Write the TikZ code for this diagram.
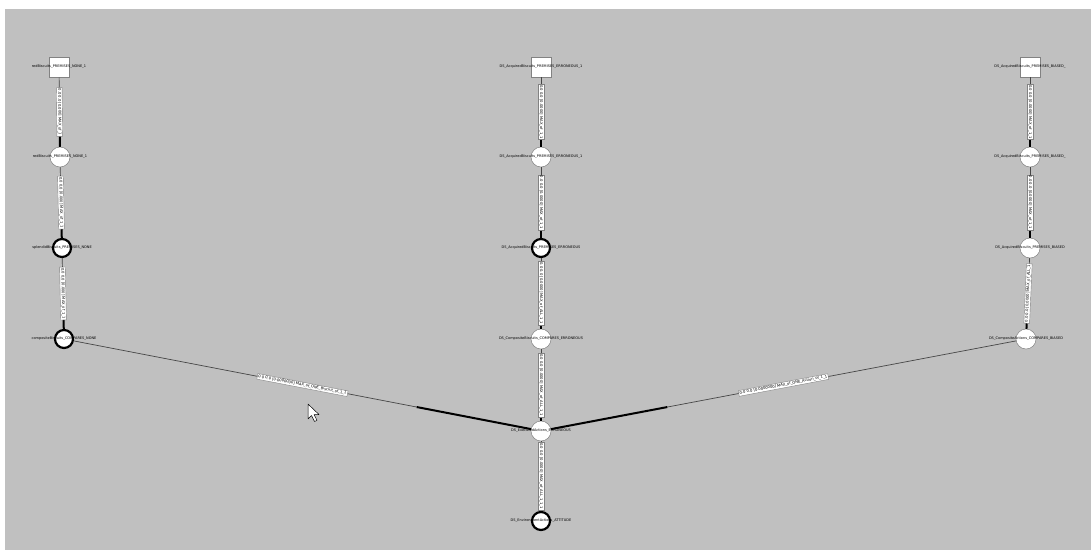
\documentclass[tikz,border=0pt]{standalone}
\usepackage{fontspec}
\setmainfont{DejaVu Sans}
\usepackage{tikz}
\definecolor{canvas}{RGB}{192,192,192}
\definecolor{edgeline}{RGB}{70,70,70}
\definecolor{nodeline}{RGB}{130,130,130}

\begin{document}
\begin{tikzpicture}[x=1pt, y=-1pt, font=\fontsize{3.5}{4}\selectfont,
    state/.style={circle, draw=nodeline, fill=white, line width=0.5pt, minimum size=20pt, inner sep=0pt},
    firing/.style={state, draw=black, line width=2.2pt, minimum size=18pt},
    source/.style={rectangle, draw=nodeline, fill=white, line width=0.5pt, minimum size=20pt, inner sep=0pt},
    link/.style={draw=edgeline, line width=0.7pt},
    linkend/.style={draw=black, line width=2pt},
    tag/.style={draw=nodeline, fill=white, line width=0.4pt, inner sep=1pt, font=\fontsize{3.7}{4}\selectfont}]
    \useasboundingbox (0,0) rectangle (1091,550);
    \fill[white] (0,0) rectangle (1091,550);
    \fill[canvas] (5,9) rectangle (1091,550);
    % left chain
    \node[source, label=center:{redBiscuits\_PREMISES\_NONE\_1}] (l1) at (59,67) {};
    \node[state, label=center:{redBiscuits\_PREMISES\_NONE\_1}] (l2) at (60,157) {};
    \node[firing, label=center:{splendidBiscuits\_PREMISES\_NONE}] (l3) at (62,248) {};
    \node[firing, label=center:{compositeBiscuits\_COMPARES\_NONE}] (l4) at (64,339) {};
    % middle chain
    \node[source, label=center:{DS\_AcquiredBiscuits\_PREMISES\_ERRONEOUS\_1}] (m1) at (541,67) {};
    \node[state, label=center:{DS\_AcquiredBiscuits\_PREMISES\_ERRONEOUS\_1}] (m2) at (541,157) {};
    \node[firing, label=center:{DS\_AcquiredBiscuits\_PREMISES\_ERRONEOUS}] (m3) at (541,248) {};
    \node[state, label=center:{DS\_CompositeBiscuits\_COMPARES\_ERRONEOUS}] (m4) at (541,339) {};
    \node[state, label=center:{DS\_ExecutedActions\_ERRONEOUS}] (m5) at (541,431) {};
    \node[firing, label=center:{DS\_EnvironmentActions\_ATTITUDE}] (m6) at (541,521) {};
    % right chain
    \node[source, label=center:{DS\_AcquiredBiscuits\_PREMISES\_BIASED\_}] (r1) at (1030,67) {};
    \node[state, label=center:{DS\_AcquiredBiscuits\_PREMISES\_BIASED\_}] (r2) at (1030,157) {};
    \node[state, label=center:{DS\_AcquiredBiscuits\_PREMISES\_BIASED}] (r3) at (1030,248) {};
    \node[state, label=center:{DS\_CompositeActions\_COMPARES\_BIASED}] (r4) at (1026,339) {};
    % connectors: thin body, heavy last quarter, label box in the middle
    \foreach \from/\to/\txt in {
        l1/l2/{0.0 0.0 [0.000] MAX\_of\_1},
        l2/l3/{0.0 0.0 [0.000] MAX\_of\_1\_1},
        l3/l4/{0.0 0.0 [0.000] MAX\_of\_1\_1},
        m1/m2/{0.0 0.0 [0.0000] MAX\_of\_1\_1},
        m2/m3/{0.0 0.0 [0.0000] MAX\_of\_1\_1},
        m3/m4/{0.0 0.0 [0.0000] MAX\_of\_ALL\_1\_1},
        m4/m5/{0.0 0.0 [0.0000] MAX\_of\_ALL\_1\_1},
        m5/m6/{0.0 0.0 [0.0000] MAX\_of\_ALL\_1\_1\_1},
        r1/r2/{0.0 0.0 [0.0000] MAX\_of\_1\_1},
        r2/r3/{0.0 0.0 [0.0000] MAX\_of\_1\_1},
        r3/r4/{0.0 0.0 [0.0000] MAX\_of\_ALL\_1},
        l4/m5/{0.0 0.0 [0.0000000] MAX\_of\_ONE\_Biscuit\_of\_1\_1},
        r4/m5/{0.0 0.0 [0.0000000] MAX\_of\_ONE\_Action\_of\_1\_1}} {
      \path (\from) -- coordinate[pos=0.75] (split) (\to);
      \draw[link] (\from) -- (split);
      \draw[linkend] (split) -- (\to);
      \path (\from) -- node[tag, sloped] {\txt} (\to);
    }
    % pointer
    \draw[fill=white, line width=0.5pt, line join=round] (308,404) -- (308,419) -- (311.5,415.5) -- (314.5,421.5) -- (317,420.3) -- (314,414.5) -- (319,414.5) -- cycle;
  \end{tikzpicture}
\end{document}
